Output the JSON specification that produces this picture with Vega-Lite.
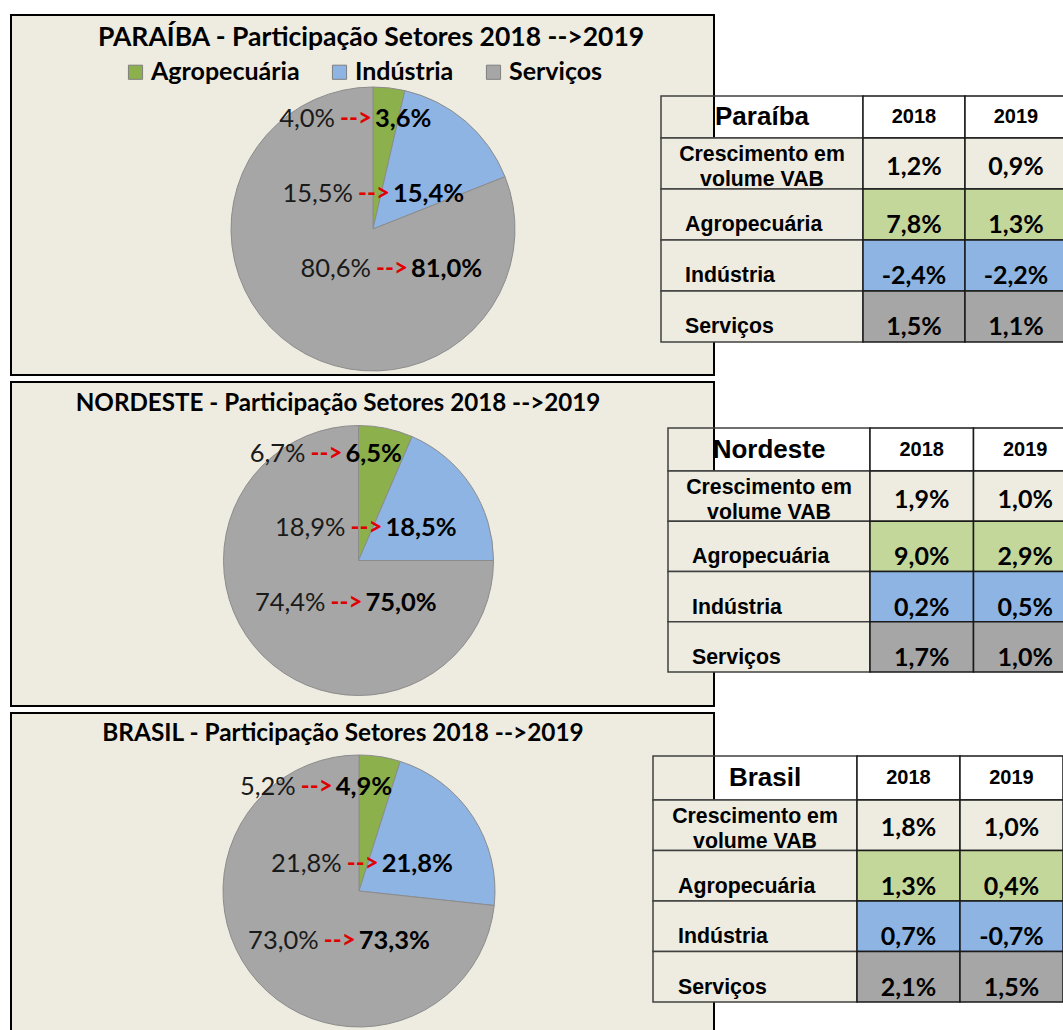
{
  "$schema": "https://vega.github.io/schema/vega-lite/v6.json",
  "width": 1063,
  "height": 1030,
  "padding": 0,
  "autosize": {"type": "none"},
  "background": "#FFFFFF",
  "config": {
    "view": {"stroke": null},
    "locale": {"number": {"decimal": ",", "thousands": ".", "grouping": [3], "currency": ["R$ ", ""], "minus": "-", "percent": "%"}}
  },
  "datasets": {
    "regions": [
      {"region": "Paraíba", "title": "PARAÍBA - Participação Setores 2018 -->2019"},
      {"region": "Nordeste", "title": "NORDESTE - Participação Setores 2018 -->2019"},
      {"region": "Brasil", "title": "BRASIL - Participação Setores 2018 -->2019"}
    ],
    "shares": [
      {"region": "Paraíba", "sector": "Agropecuária", "s2018": 0.040, "s2019": 0.036},
      {"region": "Paraíba", "sector": "Indústria", "s2018": 0.155, "s2019": 0.154},
      {"region": "Paraíba", "sector": "Serviços", "s2018": 0.806, "s2019": 0.810},
      {"region": "Nordeste", "sector": "Agropecuária", "s2018": 0.067, "s2019": 0.065},
      {"region": "Nordeste", "sector": "Indústria", "s2018": 0.189, "s2019": 0.185},
      {"region": "Nordeste", "sector": "Serviços", "s2018": 0.744, "s2019": 0.750},
      {"region": "Brasil", "sector": "Agropecuária", "s2018": 0.052, "s2019": 0.049},
      {"region": "Brasil", "sector": "Indústria", "s2018": 0.218, "s2019": 0.218},
      {"region": "Brasil", "sector": "Serviços", "s2018": 0.730, "s2019": 0.733}
    ],
    "growth": [
      {"region": "Paraíba", "indicator": "Crescimento em\nvolume VAB", "year": "2018", "rate": 0.012},
      {"region": "Paraíba", "indicator": "Crescimento em\nvolume VAB", "year": "2019", "rate": 0.009},
      {"region": "Paraíba", "indicator": "Agropecuária", "year": "2018", "rate": 0.078},
      {"region": "Paraíba", "indicator": "Agropecuária", "year": "2019", "rate": 0.013},
      {"region": "Paraíba", "indicator": "Indústria", "year": "2018", "rate": -0.024},
      {"region": "Paraíba", "indicator": "Indústria", "year": "2019", "rate": -0.022},
      {"region": "Paraíba", "indicator": "Serviços", "year": "2018", "rate": 0.015},
      {"region": "Paraíba", "indicator": "Serviços", "year": "2019", "rate": 0.011},
      {"region": "Nordeste", "indicator": "Crescimento em\nvolume VAB", "year": "2018", "rate": 0.019},
      {"region": "Nordeste", "indicator": "Crescimento em\nvolume VAB", "year": "2019", "rate": 0.010},
      {"region": "Nordeste", "indicator": "Agropecuária", "year": "2018", "rate": 0.090},
      {"region": "Nordeste", "indicator": "Agropecuária", "year": "2019", "rate": 0.029},
      {"region": "Nordeste", "indicator": "Indústria", "year": "2018", "rate": 0.002},
      {"region": "Nordeste", "indicator": "Indústria", "year": "2019", "rate": 0.005},
      {"region": "Nordeste", "indicator": "Serviços", "year": "2018", "rate": 0.017},
      {"region": "Nordeste", "indicator": "Serviços", "year": "2019", "rate": 0.010},
      {"region": "Brasil", "indicator": "Crescimento em\nvolume VAB", "year": "2018", "rate": 0.018},
      {"region": "Brasil", "indicator": "Crescimento em\nvolume VAB", "year": "2019", "rate": 0.010},
      {"region": "Brasil", "indicator": "Agropecuária", "year": "2018", "rate": 0.013},
      {"region": "Brasil", "indicator": "Agropecuária", "year": "2019", "rate": 0.004},
      {"region": "Brasil", "indicator": "Indústria", "year": "2018", "rate": 0.007},
      {"region": "Brasil", "indicator": "Indústria", "year": "2019", "rate": -0.007},
      {"region": "Brasil", "indicator": "Serviços", "year": "2018", "rate": 0.021},
      {"region": "Brasil", "indicator": "Serviços", "year": "2019", "rate": 0.015}
    ]
  },
  "resolve": {"scale": {"x": "independent", "y": "independent", "color": "independent", "theta": "independent"}, "legend": {"color": "independent"}},
  "layer": [
    {
      "data": {"name": "regions"},
      "transform": [{"filter": "datum.region === 'Paraíba'"}],
      "mark": {"type": "rect", "fill": "#EEECE1", "stroke": "#000000", "strokeWidth": 2},
      "encoding": {
        "x": {"field": "region", "type": "nominal", "axis": null, "scale": {"type": "band", "domain": ["Paraíba"], "range": [11, 714], "paddingInner": 0, "paddingOuter": 0}},
        "y": {"field": "region", "type": "nominal", "axis": null, "scale": {"type": "band", "domain": ["Paraíba"], "range": [15, 375], "paddingInner": 0, "paddingOuter": 0}}
      }
    },
    {
      "data": {"name": "regions"},
      "transform": [{"filter": "datum.region === 'Nordeste'"}],
      "mark": {"type": "rect", "fill": "#EEECE1", "stroke": "#000000", "strokeWidth": 2},
      "encoding": {
        "x": {"field": "region", "type": "nominal", "axis": null, "scale": {"type": "band", "domain": ["Nordeste"], "range": [11, 714], "paddingInner": 0, "paddingOuter": 0}},
        "y": {"field": "region", "type": "nominal", "axis": null, "scale": {"type": "band", "domain": ["Nordeste"], "range": [382, 706], "paddingInner": 0, "paddingOuter": 0}}
      }
    },
    {
      "data": {"name": "regions"},
      "transform": [{"filter": "datum.region === 'Brasil'"}],
      "mark": {"type": "rect", "fill": "#EEECE1", "stroke": "#000000", "strokeWidth": 2},
      "encoding": {
        "x": {"field": "region", "type": "nominal", "axis": null, "scale": {"type": "band", "domain": ["Brasil"], "range": [11, 714], "paddingInner": 0, "paddingOuter": 0}},
        "y": {"field": "region", "type": "nominal", "axis": null, "scale": {"type": "band", "domain": ["Brasil"], "range": [713, 1045], "paddingInner": 0, "paddingOuter": 0}}
      }
    },
    {
      "data": {"name": "regions"},
      "transform": [{"filter": "datum.region === 'Paraíba'"}],
      "mark": {"type": "text", "font": "Lato", "fontSize": 26.5, "fontWeight": "bold", "color": "#000000", "align": "center", "baseline": "middle"},
      "encoding": {
        "x": {"field": "region", "type": "nominal", "axis": null, "scale": {"type": "point", "domain": ["Paraíba"], "range": [370, 372], "padding": 0}},
        "y": {"field": "region", "type": "nominal", "axis": null, "scale": {"type": "point", "domain": ["Paraíba"], "range": [37, 39], "padding": 0}},
        "text": {"field": "title", "type": "nominal"}
      }
    },
    {
      "data": {"name": "regions"},
      "transform": [{"filter": "datum.region === 'Nordeste'"}],
      "mark": {"type": "text", "font": "Lato", "fontSize": 24.2, "fontWeight": "bold", "color": "#000000", "align": "center", "baseline": "middle"},
      "encoding": {
        "x": {"field": "region", "type": "nominal", "axis": null, "scale": {"type": "point", "domain": ["Nordeste"], "range": [337, 339], "padding": 0}},
        "y": {"field": "region", "type": "nominal", "axis": null, "scale": {"type": "point", "domain": ["Nordeste"], "range": [403, 405], "padding": 0}},
        "text": {"field": "title", "type": "nominal"}
      }
    },
    {
      "data": {"name": "regions"},
      "transform": [{"filter": "datum.region === 'Brasil'"}],
      "mark": {"type": "text", "font": "Lato", "fontSize": 24.4, "fontWeight": "bold", "color": "#000000", "align": "center", "baseline": "middle"},
      "encoding": {
        "x": {"field": "region", "type": "nominal", "axis": null, "scale": {"type": "point", "domain": ["Brasil"], "range": [342, 344], "padding": 0}},
        "y": {"field": "region", "type": "nominal", "axis": null, "scale": {"type": "point", "domain": ["Brasil"], "range": [733, 735], "padding": 0}},
        "text": {"field": "title", "type": "nominal"}
      }
    },
    {
      "data": {"name": "shares"},
      "transform": [{"filter": "datum.region === 'Paraíba'"}],
      "mark": {"type": "arc", "outerRadius": 142, "stroke": "#8C8C8C", "strokeWidth": 1},
      "encoding": {
        "x": {"field": "region", "type": "nominal", "axis": null, "scale": {"type": "point", "domain": ["Paraíba"], "range": [372, 374], "padding": 0}},
        "y": {"field": "region", "type": "nominal", "axis": null, "scale": {"type": "point", "domain": ["Paraíba"], "range": [228, 230], "padding": 0}},
        "theta": {"field": "s2019", "type": "quantitative", "stack": true},
        "order": {"field": "sector", "type": "ordinal", "sort": "ascending"},
        "color": {
          "field": "sector", "type": "nominal",
          "scale": {"domain": ["Agropecuária", "Indústria", "Serviços"], "range": ["#8CB04B", "#8EB4E3", "#A6A6A6"]},
          "legend": {"orient": "none", "legendX": 123, "legendY": 59.5, "direction": "horizontal", "title": null, "symbolType": "square", "symbolSize": 200, "symbolStrokeColor": "#7F7F7F", "symbolStrokeWidth": 1, "labelFont": "Lato", "labelFontSize": 25, "labelFontWeight": "bold", "labelColor": "#000000", "columnPadding": 27, "labelOffset": 3, "padding": 0, "offset": 0}
        }
      }
    },
    {
      "data": {"name": "shares"},
      "transform": [{"filter": "datum.region === 'Nordeste'"}],
      "mark": {"type": "arc", "outerRadius": 135, "stroke": "#8C8C8C", "strokeWidth": 1},
      "encoding": {
        "x": {"field": "region", "type": "nominal", "axis": null, "scale": {"type": "point", "domain": ["Nordeste"], "range": [357.5, 359.5], "padding": 0}},
        "y": {"field": "region", "type": "nominal", "axis": null, "scale": {"type": "point", "domain": ["Nordeste"], "range": [559.5, 561.5], "padding": 0}},
        "theta": {"field": "s2019", "type": "quantitative", "stack": true},
        "order": {"field": "sector", "type": "ordinal", "sort": "ascending"},
        "color": {"field": "sector", "type": "nominal", "legend": null, "scale": {"domain": ["Agropecuária", "Indústria", "Serviços"], "range": ["#8CB04B", "#8EB4E3", "#A6A6A6"]}}
      }
    },
    {
      "data": {"name": "shares"},
      "transform": [{"filter": "datum.region === 'Brasil'"}],
      "mark": {"type": "arc", "outerRadius": 136, "stroke": "#8C8C8C", "strokeWidth": 1},
      "encoding": {
        "x": {"field": "region", "type": "nominal", "axis": null, "scale": {"type": "point", "domain": ["Brasil"], "range": [358, 360], "padding": 0}},
        "y": {"field": "region", "type": "nominal", "axis": null, "scale": {"type": "point", "domain": ["Brasil"], "range": [890, 892], "padding": 0}},
        "theta": {"field": "s2019", "type": "quantitative", "stack": true},
        "order": {"field": "sector", "type": "ordinal", "sort": "ascending"},
        "color": {"field": "sector", "type": "nominal", "legend": null, "scale": {"domain": ["Agropecuária", "Indústria", "Serviços"], "range": ["#8CB04B", "#8EB4E3", "#A6A6A6"]}}
      }
    },
    {
      "data": {"name": "shares"},
      "transform": [{"filter": "datum.region === 'Paraíba'"}],
      "encoding": {
        "x": {"field": "sector", "type": "nominal", "axis": null, "scale": {"type": "point", "domain": ["Agropecuária", "Indústria", "Serviços"], "range": [356, 392], "padding": 0}},
        "y": {"field": "sector", "type": "nominal", "axis": null, "scale": {"type": "point", "domain": ["Agropecuária", "Indústria", "Serviços"], "range": [119, 269], "padding": 0}}
      },
      "layer": [
        {"mark": {"type": "text", "font": "Lato", "fontSize": 25.5, "color": "#1A1A1A", "align": "right", "baseline": "middle", "dx": -21}, "encoding": {"text": {"field": "s2018", "type": "quantitative", "format": ".1%"}}},
        {"mark": {"type": "text", "font": "Lato", "fontSize": 24, "fontWeight": "bold", "color": "#E00000", "align": "center", "baseline": "middle"}, "encoding": {"text": {"value": "-->"}}},
        {"mark": {"type": "text", "font": "Lato", "fontSize": 25.5, "fontWeight": "bold", "color": "#000000", "align": "left", "baseline": "middle", "dx": 19}, "encoding": {"text": {"field": "s2019", "type": "quantitative", "format": ".1%"}}}
      ]
    },
    {
      "data": {"name": "shares"},
      "transform": [{"filter": "datum.region === 'Nordeste'"}],
      "encoding": {
        "x": {"field": "sector", "type": "nominal", "axis": null, "scale": {"type": "point", "domain": ["Agropecuária", "Serviços", "Indústria"], "range": [326.5, 366.5], "padding": 0}},
        "y": {"field": "sector", "type": "nominal", "axis": null, "scale": {"type": "point", "domain": ["Agropecuária", "Indústria", "Serviços"], "range": [453.5, 602.5], "padding": 0}}
      },
      "layer": [
        {"mark": {"type": "text", "font": "Lato", "fontSize": 25.5, "color": "#1A1A1A", "align": "right", "baseline": "middle", "dx": -21}, "encoding": {"text": {"field": "s2018", "type": "quantitative", "format": ".1%"}}},
        {"mark": {"type": "text", "font": "Lato", "fontSize": 24, "fontWeight": "bold", "color": "#E00000", "align": "center", "baseline": "middle"}, "encoding": {"text": {"value": "-->"}}},
        {"mark": {"type": "text", "font": "Lato", "fontSize": 25.5, "fontWeight": "bold", "color": "#000000", "align": "left", "baseline": "middle", "dx": 19}, "encoding": {"text": {"field": "s2019", "type": "quantitative", "format": ".1%"}}}
      ]
    },
    {
      "data": {"name": "shares"},
      "transform": [{"filter": "datum.region === 'Brasil'"}],
      "encoding": {
        "x": {"field": "sector", "type": "nominal", "axis": null, "scale": {"type": "point", "domain": ["Agropecuária", "Serviços", "Indústria"], "range": [316.7, 362.7], "padding": 0}},
        "y": {"field": "sector", "type": "nominal", "axis": null, "scale": {"type": "point", "domain": ["Agropecuária", "Indústria", "Serviços"], "range": [787.3, 941.3], "padding": 0}}
      },
      "layer": [
        {"mark": {"type": "text", "font": "Lato", "fontSize": 25.5, "color": "#1A1A1A", "align": "right", "baseline": "middle", "dx": -21}, "encoding": {"text": {"field": "s2018", "type": "quantitative", "format": ".1%"}}},
        {"mark": {"type": "text", "font": "Lato", "fontSize": 24, "fontWeight": "bold", "color": "#E00000", "align": "center", "baseline": "middle"}, "encoding": {"text": {"value": "-->"}}},
        {"mark": {"type": "text", "font": "Lato", "fontSize": 25.5, "fontWeight": "bold", "color": "#000000", "align": "left", "baseline": "middle", "dx": 19}, "encoding": {"text": {"field": "s2019", "type": "quantitative", "format": ".1%"}}}
      ]
    },

    {
      "data": {"name": "growth"},
      "transform": [{"filter": "datum.region === 'Paraíba' && datum.indicator === 'Agropecuária' && datum.year === '2018'"}],
      "encoding": {
        "x": {"field": "region", "type": "nominal", "axis": null, "scale": {"type": "band", "domain": ["Paraíba"], "range": [661, 863], "paddingInner": 0, "paddingOuter": 0}},
        "y": {"field": "region", "type": "nominal", "axis": null, "scale": {"type": "band", "domain": ["Paraíba"], "range": [96, 138], "paddingInner": 0, "paddingOuter": 0}}
      },
      "layer": [
        {"mark": {"type": "rect", "fill": "#FFFFFF", "fillOpacity": 0, "stroke": "#404040", "strokeWidth": 1.5}},
        {"mark": {"type": "text", "font": "Liberation Sans", "fontSize": 26, "fontWeight": "bold", "color": "#000000", "align": "center", "baseline": "middle"}, "encoding": {"text": {"field": "region", "type": "nominal"}}}
      ]
    },
    {
      "data": {"name": "growth"},
      "transform": [{"filter": "datum.region === 'Paraíba' && datum.indicator === 'Agropecuária'"}],
      "encoding": {
        "x": {"field": "year", "type": "nominal", "axis": null, "scale": {"type": "band", "domain": ["2018", "2019"], "range": [863, 1067], "paddingInner": 0, "paddingOuter": 0}},
        "y": {"field": "region", "type": "nominal", "axis": null, "scale": {"type": "band", "domain": ["Paraíba"], "range": [96, 138], "paddingInner": 0, "paddingOuter": 0}}
      },
      "layer": [
        {"mark": {"type": "rect", "fill": "#FFFFFF", "stroke": "#1A1A1A", "strokeWidth": 1.5}},
        {"mark": {"type": "text", "font": "Liberation Sans", "fontSize": 20, "fontWeight": "bold", "color": "#000000", "align": "center", "baseline": "middle"}, "encoding": {"text": {"field": "year", "type": "nominal"}}}
      ]
    },
    {
      "data": {"name": "growth"},
      "transform": [{"filter": "datum.region === 'Paraíba' && datum.year === '2018'"}],
      "encoding": {
        "x": {"field": "region", "type": "nominal", "axis": null, "scale": {"type": "band", "domain": ["Paraíba"], "range": [661, 863], "paddingInner": 0, "paddingOuter": 0}},
        "y": {"field": "indicator", "type": "nominal", "axis": null, "scale": {"type": "band", "domain": ["Crescimento em\nvolume VAB", "Agropecuária", "Indústria", "Serviços"], "range": [138, 342], "paddingInner": 0, "paddingOuter": 0}}
      },
      "layer": [
        {"mark": {"type": "rect", "fill": "#EEECE1", "stroke": "#404040", "strokeWidth": 1.5}},
        {"transform": [{"filter": "indexof(datum.indicator, 'Crescimento') < 0"}], "mark": {"type": "text", "font": "Liberation Sans", "fontSize": 21.3, "fontWeight": "bold", "color": "#000000", "align": "left", "baseline": "middle", "dx": -77, "dy": 10}, "encoding": {"text": {"field": "indicator", "type": "nominal"}}},
        {"transform": [{"filter": "indexof(datum.indicator, 'Crescimento') === 0"}], "mark": {"type": "text", "font": "Liberation Sans", "fontSize": 21.3, "fontWeight": "bold", "color": "#000000", "align": "center", "baseline": "middle", "dy": -9, "lineBreak": "\n", "lineHeight": 25}, "encoding": {"text": {"field": "indicator", "type": "nominal"}}}
      ]
    },
    {
      "data": {"name": "growth"},
      "transform": [{"filter": "datum.region === 'Paraíba'"}],
      "encoding": {
        "x": {"field": "year", "type": "nominal", "axis": null, "scale": {"type": "band", "domain": ["2018", "2019"], "range": [863, 1067], "paddingInner": 0, "paddingOuter": 0}},
        "y": {"field": "indicator", "type": "nominal", "axis": null, "scale": {"type": "band", "domain": ["Crescimento em\nvolume VAB", "Agropecuária", "Indústria", "Serviços"], "range": [138, 342], "paddingInner": 0, "paddingOuter": 0}}
      },
      "layer": [
        {"mark": {"type": "rect", "stroke": "#1A1A1A", "strokeWidth": 1.5}, "encoding": {"color": {"field": "indicator", "type": "nominal", "legend": null, "scale": {"domain": ["Crescimento em\nvolume VAB", "Agropecuária", "Indústria", "Serviços"], "range": ["#EEECE1", "#C4D79B", "#8DB4E2", "#A6A6A6"]}}}},
        {"transform": [{"filter": "indexof(datum.indicator, 'Crescimento') < 0"}], "mark": {"type": "text", "font": "Lato", "fontSize": 25, "fontWeight": "bold", "color": "#000000", "align": "center", "baseline": "middle", "dy": 10}, "encoding": {"text": {"field": "rate", "type": "quantitative", "format": ".1%"}}},
        {"transform": [{"filter": "indexof(datum.indicator, 'Crescimento') === 0"}], "mark": {"type": "text", "font": "Lato", "fontSize": 25, "fontWeight": "bold", "color": "#000000", "align": "center", "baseline": "middle", "dy": 3}, "encoding": {"text": {"field": "rate", "type": "quantitative", "format": ".1%"}}}
      ]
    },

    {
      "data": {"name": "growth"},
      "transform": [{"filter": "datum.region === 'Nordeste' && datum.indicator === 'Agropecuária' && datum.year === '2018'"}],
      "encoding": {
        "x": {"field": "region", "type": "nominal", "axis": null, "scale": {"type": "band", "domain": ["Nordeste"], "range": [668, 870], "paddingInner": 0, "paddingOuter": 0}},
        "y": {"field": "region", "type": "nominal", "axis": null, "scale": {"type": "band", "domain": ["Nordeste"], "range": [428, 471], "paddingInner": 0, "paddingOuter": 0}}
      },
      "layer": [
        {"mark": {"type": "rect", "fill": "#FFFFFF", "fillOpacity": 0, "stroke": "#404040", "strokeWidth": 1.5}},
        {"mark": {"type": "text", "font": "Liberation Sans", "fontSize": 26, "fontWeight": "bold", "color": "#000000", "align": "center", "baseline": "middle"}, "encoding": {"text": {"field": "region", "type": "nominal"}}}
      ]
    },
    {
      "data": {"name": "growth"},
      "transform": [{"filter": "datum.region === 'Nordeste' && datum.indicator === 'Agropecuária'"}],
      "encoding": {
        "x": {"field": "year", "type": "nominal", "axis": null, "scale": {"type": "band", "domain": ["2018", "2019"], "range": [870, 1077], "paddingInner": 0, "paddingOuter": 0}},
        "y": {"field": "region", "type": "nominal", "axis": null, "scale": {"type": "band", "domain": ["Nordeste"], "range": [428, 471], "paddingInner": 0, "paddingOuter": 0}}
      },
      "layer": [
        {"mark": {"type": "rect", "fill": "#FFFFFF", "stroke": "#1A1A1A", "strokeWidth": 1.5}},
        {"mark": {"type": "text", "font": "Liberation Sans", "fontSize": 20, "fontWeight": "bold", "color": "#000000", "align": "center", "baseline": "middle"}, "encoding": {"text": {"field": "year", "type": "nominal"}}}
      ]
    },
    {
      "data": {"name": "growth"},
      "transform": [{"filter": "datum.region === 'Nordeste' && datum.year === '2018'"}],
      "encoding": {
        "x": {"field": "region", "type": "nominal", "axis": null, "scale": {"type": "band", "domain": ["Nordeste"], "range": [668, 870], "paddingInner": 0, "paddingOuter": 0}},
        "y": {"field": "indicator", "type": "nominal", "axis": null, "scale": {"type": "band", "domain": ["Crescimento em\nvolume VAB", "Agropecuária", "Indústria", "Serviços"], "range": [471, 672], "paddingInner": 0, "paddingOuter": 0}}
      },
      "layer": [
        {"mark": {"type": "rect", "fill": "#EEECE1", "stroke": "#404040", "strokeWidth": 1.5}},
        {"transform": [{"filter": "indexof(datum.indicator, 'Crescimento') < 0"}], "mark": {"type": "text", "font": "Liberation Sans", "fontSize": 21.3, "fontWeight": "bold", "color": "#000000", "align": "left", "baseline": "middle", "dx": -77, "dy": 11}, "encoding": {"text": {"field": "indicator", "type": "nominal"}}},
        {"transform": [{"filter": "indexof(datum.indicator, 'Crescimento') === 0"}], "mark": {"type": "text", "font": "Liberation Sans", "fontSize": 21.3, "fontWeight": "bold", "color": "#000000", "align": "center", "baseline": "middle", "dy": -8, "lineBreak": "\n", "lineHeight": 25}, "encoding": {"text": {"field": "indicator", "type": "nominal"}}}
      ]
    },
    {
      "data": {"name": "growth"},
      "transform": [{"filter": "datum.region === 'Nordeste'"}],
      "encoding": {
        "x": {"field": "year", "type": "nominal", "axis": null, "scale": {"type": "band", "domain": ["2018", "2019"], "range": [870, 1077], "paddingInner": 0, "paddingOuter": 0}},
        "y": {"field": "indicator", "type": "nominal", "axis": null, "scale": {"type": "band", "domain": ["Crescimento em\nvolume VAB", "Agropecuária", "Indústria", "Serviços"], "range": [471, 672], "paddingInner": 0, "paddingOuter": 0}}
      },
      "layer": [
        {"mark": {"type": "rect", "stroke": "#1A1A1A", "strokeWidth": 1.5}, "encoding": {"color": {"field": "indicator", "type": "nominal", "legend": null, "scale": {"domain": ["Crescimento em\nvolume VAB", "Agropecuária", "Indústria", "Serviços"], "range": ["#EEECE1", "#C4D79B", "#8DB4E2", "#A6A6A6"]}}}},
        {"transform": [{"filter": "indexof(datum.indicator, 'Crescimento') < 0"}], "mark": {"type": "text", "font": "Lato", "fontSize": 25, "fontWeight": "bold", "color": "#000000", "align": "center", "baseline": "middle", "dy": 11}, "encoding": {"text": {"field": "rate", "type": "quantitative", "format": ".1%"}}},
        {"transform": [{"filter": "indexof(datum.indicator, 'Crescimento') === 0"}], "mark": {"type": "text", "font": "Lato", "fontSize": 25, "fontWeight": "bold", "color": "#000000", "align": "center", "baseline": "middle", "dy": 4}, "encoding": {"text": {"field": "rate", "type": "quantitative", "format": ".1%"}}}
      ]
    },

    {
      "data": {"name": "growth"},
      "transform": [{"filter": "datum.region === 'Brasil' && datum.indicator === 'Agropecuária' && datum.year === '2018'"}],
      "encoding": {
        "x": {"field": "region", "type": "nominal", "axis": null, "scale": {"type": "band", "domain": ["Brasil"], "range": [653, 857], "paddingInner": 0, "paddingOuter": 0}},
        "y": {"field": "region", "type": "nominal", "axis": null, "scale": {"type": "band", "domain": ["Brasil"], "range": [756, 800], "paddingInner": 0, "paddingOuter": 0}}
      },
      "layer": [
        {"mark": {"type": "rect", "fill": "#FFFFFF", "fillOpacity": 0, "stroke": "#404040", "strokeWidth": 1.5}},
        {"mark": {"type": "text", "font": "Liberation Sans", "fontSize": 26, "fontWeight": "bold", "color": "#000000", "align": "center", "baseline": "middle", "dx": 10}, "encoding": {"text": {"field": "region", "type": "nominal"}}}
      ]
    },
    {
      "data": {"name": "growth"},
      "transform": [{"filter": "datum.region === 'Brasil' && datum.indicator === 'Agropecuária'"}],
      "encoding": {
        "x": {"field": "year", "type": "nominal", "axis": null, "scale": {"type": "band", "domain": ["2018", "2019"], "range": [857, 1063], "paddingInner": 0, "paddingOuter": 0}},
        "y": {"field": "region", "type": "nominal", "axis": null, "scale": {"type": "band", "domain": ["Brasil"], "range": [756, 800], "paddingInner": 0, "paddingOuter": 0}}
      },
      "layer": [
        {"mark": {"type": "rect", "fill": "#FFFFFF", "stroke": "#1A1A1A", "strokeWidth": 1.5}},
        {"mark": {"type": "text", "font": "Liberation Sans", "fontSize": 20, "fontWeight": "bold", "color": "#000000", "align": "center", "baseline": "middle"}, "encoding": {"text": {"field": "year", "type": "nominal"}}}
      ]
    },
    {
      "data": {"name": "growth"},
      "transform": [{"filter": "datum.region === 'Brasil' && datum.year === '2018'"}],
      "encoding": {
        "x": {"field": "region", "type": "nominal", "axis": null, "scale": {"type": "band", "domain": ["Brasil"], "range": [653, 857], "paddingInner": 0, "paddingOuter": 0}},
        "y": {"field": "indicator", "type": "nominal", "axis": null, "scale": {"type": "band", "domain": ["Crescimento em\nvolume VAB", "Agropecuária", "Indústria", "Serviços"], "range": [800, 1002], "paddingInner": 0, "paddingOuter": 0}}
      },
      "layer": [
        {"mark": {"type": "rect", "fill": "#EEECE1", "stroke": "#404040", "strokeWidth": 1.5}},
        {"transform": [{"filter": "indexof(datum.indicator, 'Crescimento') < 0"}], "mark": {"type": "text", "font": "Liberation Sans", "fontSize": 21.3, "fontWeight": "bold", "color": "#000000", "align": "left", "baseline": "middle", "dx": -77, "dy": 11}, "encoding": {"text": {"field": "indicator", "type": "nominal"}}},
        {"transform": [{"filter": "indexof(datum.indicator, 'Crescimento') === 0"}], "mark": {"type": "text", "font": "Liberation Sans", "fontSize": 21.3, "fontWeight": "bold", "color": "#000000", "align": "center", "baseline": "middle", "dy": -8, "lineBreak": "\n", "lineHeight": 25}, "encoding": {"text": {"field": "indicator", "type": "nominal"}}}
      ]
    },
    {
      "data": {"name": "growth"},
      "transform": [{"filter": "datum.region === 'Brasil'"}],
      "encoding": {
        "x": {"field": "year", "type": "nominal", "axis": null, "scale": {"type": "band", "domain": ["2018", "2019"], "range": [857, 1063], "paddingInner": 0, "paddingOuter": 0}},
        "y": {"field": "indicator", "type": "nominal", "axis": null, "scale": {"type": "band", "domain": ["Crescimento em\nvolume VAB", "Agropecuária", "Indústria", "Serviços"], "range": [800, 1002], "paddingInner": 0, "paddingOuter": 0}}
      },
      "layer": [
        {"mark": {"type": "rect", "stroke": "#1A1A1A", "strokeWidth": 1.5}, "encoding": {"color": {"field": "indicator", "type": "nominal", "legend": null, "scale": {"domain": ["Crescimento em\nvolume VAB", "Agropecuária", "Indústria", "Serviços"], "range": ["#EEECE1", "#C4D79B", "#8DB4E2", "#A6A6A6"]}}}},
        {"transform": [{"filter": "indexof(datum.indicator, 'Crescimento') < 0"}], "mark": {"type": "text", "font": "Lato", "fontSize": 25, "fontWeight": "bold", "color": "#000000", "align": "center", "baseline": "middle", "dy": 11}, "encoding": {"text": {"field": "rate", "type": "quantitative", "format": ".1%"}}},
        {"transform": [{"filter": "indexof(datum.indicator, 'Crescimento') === 0"}], "mark": {"type": "text", "font": "Lato", "fontSize": 25, "fontWeight": "bold", "color": "#000000", "align": "center", "baseline": "middle", "dy": 3}, "encoding": {"text": {"field": "rate", "type": "quantitative", "format": ".1%"}}}
      ]
    }
  ]
}
